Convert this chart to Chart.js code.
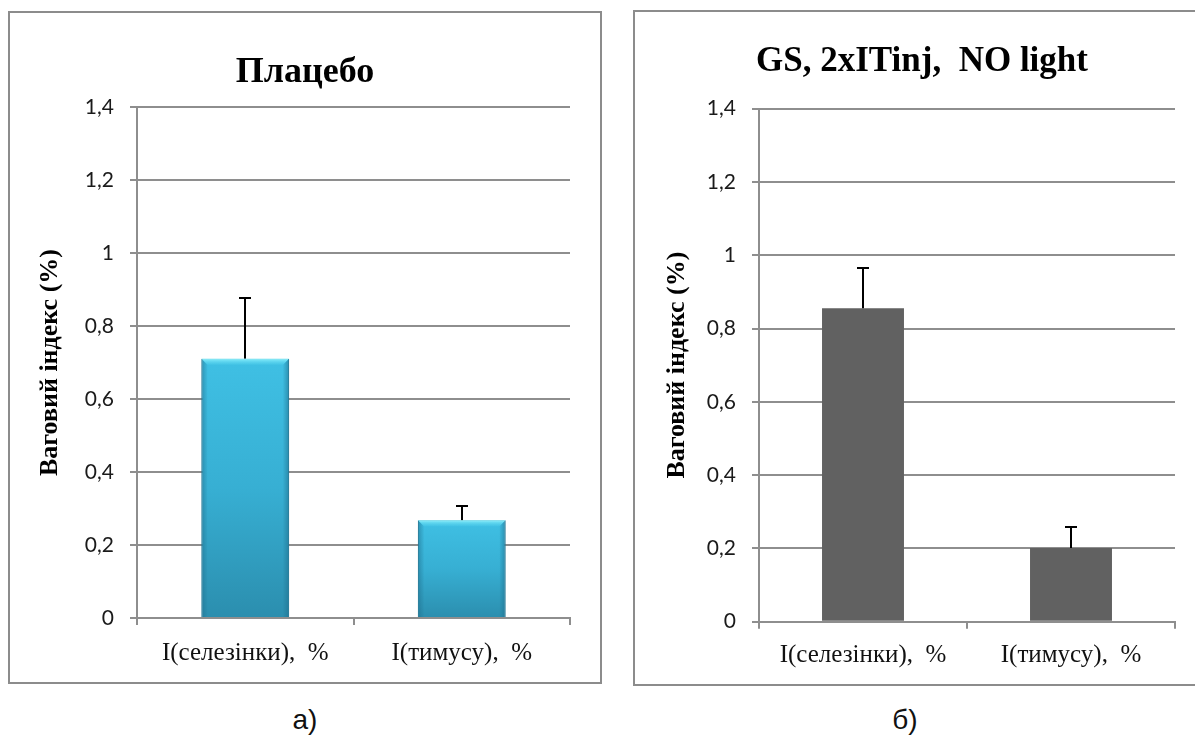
<!DOCTYPE html>
<html><head><meta charset="utf-8">
<script src="https://cdn.jsdelivr.net/npm/chart.js@4.4.1/dist/chart.umd.min.js"></script>
<style>
body{margin:0;background:#fff;width:1195px;height:749px;overflow:hidden;position:relative;}
.panel{position:absolute;border:2px solid #8c8c8c;box-sizing:border-box;background:#fff;}
canvas{position:absolute;left:0;top:0;}
.cap{position:absolute;font-family:"Liberation Sans",Arial,sans-serif;font-size:28px;color:#111;transform:translate(-50%,-50%);line-height:1;}
</style></head><body>
<div class="panel" style="left:8px;top:11px;width:594px;height:673px;"><canvas id="c1" width="590" height="669"></canvas></div>
<div class="panel" style="left:633px;top:10px;width:580px;height:676px;"><canvas id="c2" width="560" height="671"></canvas></div>
<div class="cap" style="left:305px;top:720px;">а)</div>
<div class="cap" style="left:905px;top:720px;">б)</div>
<script>
// ---- data ----
const categories = ['I(селезінки),  %', 'I(тимусу),  %'];
const placeboValues = [0.71, 0.268];
const placeboUpper = [0.877, 0.307];
const gsValues = [0.855, 0.201];
const gsUpper = [0.966, 0.259];
const tickLabels = ['0', '0,2', '0,4', '0,6', '0,8', '1', '1,2', '1,4'];
const titleLeft = 'Плацебо';
const titleRight = 'GS, 2xITinj,  NO light';
const yTitle = 'Ваговий індекс (%)';

const GRID = '#8e8e8e';
const SERIF = '"Liberation Serif", "Times New Roman", serif';

const errPlugin = {
  id: 'err',
  afterDatasetsDraw(chart, args, opts) {
    const meta = chart.getDatasetMeta(0);
    const y = chart.scales.y;
    const ctx = chart.ctx;
    ctx.save();
    ctx.strokeStyle = '#000';
    ctx.lineWidth = 2;
    meta.data.forEach((bar, i) => {
      const top = Math.round(y.getPixelForValue(opts.upper[i]));
      const x = Math.round(bar.x);
      ctx.beginPath();
      ctx.moveTo(x, bar.y);
      ctx.lineTo(x, top);
      ctx.moveTo(x - 6, top);
      ctx.lineTo(x + 6, top);
      ctx.stroke();
    });
    ctx.restore();
  }
};

const bevelPlugin = {
  id: 'bevel',
  afterDatasetsDraw(chart, args, opts) {
    if (!opts.on) return;
    const ctx = chart.ctx;
    const meta = chart.getDatasetMeta(0);
    ctx.save();
    meta.data.forEach(bar => {
      const l = bar.x - bar.width / 2, r = bar.x + bar.width / 2, t = bar.y, b = bar.base;
      const d = 6;
      let g = ctx.createLinearGradient(0, t, 0, t + d);
      g.addColorStop(0, 'rgba(140,240,252,0.95)');
      g.addColorStop(1, 'rgba(90,215,240,0.2)');
      ctx.fillStyle = g;
      ctx.beginPath();
      ctx.moveTo(l, t); ctx.lineTo(r, t); ctx.lineTo(r - d, t + d); ctx.lineTo(l + d, t + d); ctx.closePath();
      ctx.fill();
      g = ctx.createLinearGradient(l, 0, l + d, 0);
      g.addColorStop(0, 'rgba(30,110,140,0.55)');
      g.addColorStop(1, 'rgba(30,110,140,0.05)');
      ctx.fillStyle = g;
      ctx.beginPath();
      ctx.moveTo(l, t); ctx.lineTo(l + d, t + d); ctx.lineTo(l + d, b); ctx.lineTo(l, b); ctx.closePath();
      ctx.fill();
      g = ctx.createLinearGradient(r, 0, r - d, 0);
      g.addColorStop(0, 'rgba(30,110,140,0.6)');
      g.addColorStop(1, 'rgba(30,110,140,0.05)');
      ctx.fillStyle = g;
      ctx.beginPath();
      ctx.moveTo(r, t); ctx.lineTo(r - d, t + d); ctx.lineTo(r - d, b); ctx.lineTo(r, b); ctx.closePath();
      ctx.fill();
    });
    ctx.restore();
  }
};

function cyanGradient(c) {
  const chart = c.chart;
  const y = chart.scales.y;
  if (!y || c.parsed === undefined) return '#3ab6dc';
  const top = y.getPixelForValue(c.parsed.y);
  const bot = y.getPixelForValue(0);
  if (!isFinite(top) || !isFinite(bot)) return '#3ab6dc';
  const g = chart.ctx.createLinearGradient(0, top, 0, bot);
  g.addColorStop(0, '#3fc0e4');
  g.addColorStop(0.5, '#37afd3');
  g.addColorStop(1, '#2b8eae');
  return g;
}

function makeChart(id, cfg) {
  return new Chart(document.getElementById(id), {
    type: 'bar',
    data: {
      labels: categories,
      datasets: [{
        data: cfg.values,
        backgroundColor: cfg.color,
        borderColor: cfg.border,
        borderWidth: cfg.borderWidth,
        barPercentage: cfg.barPct,
        categoryPercentage: 1
      }]
    },
    plugins: [errPlugin, bevelPlugin],
    options: {
      responsive: false,
      animation: false,
      events: [],
      layout: { padding: { left: cfg.padL, right: cfg.padR, top: 0, bottom: 0 } },
      plugins: {
        legend: { display: false },
        tooltip: { enabled: false },
        title: {
          display: true,
          text: cfg.title,
          color: '#000',
          font: { family: SERIF, size: cfg.titleSize, weight: 'bold', lineHeight: 1.2 },
          padding: { top: cfg.titleTop, bottom: cfg.titleBottom }
        },
        err: { upper: cfg.upper },
        bevel: { on: cfg.bevel }
      },
      scales: {
        x: {
          grid: { display: true, drawOnChartArea: false, drawTicks: true, tickLength: 7, color: GRID, lineWidth: 2, offset: true },
          border: { display: true, color: GRID, width: 2 },
          ticks: { color: '#111', padding: cfg.xPad, font: { family: SERIF, size: 25, lineHeight: 1.2 } },
          afterFit: s => { s.height = cfg.xH; }
        },
        y: {
          min: 0, max: 1.4,
          ticks: {
            stepSize: 0.2,
            color: '#1a1a1a',
            padding: 16,
            font: { family: 'Lato, "Open Sans", sans-serif', size: 21 },
            callback: (v, i) => tickLabels[i]
          },
          grid: { color: GRID, lineWidth: 2, tickLength: 7, drawTicks: true },
          border: { display: true, color: GRID, width: 2 },
          title: {
            display: true,
            text: yTitle,
            color: '#000',
            font: { family: SERIF, size: 26, weight: 'bold', lineHeight: 1.2 },
            padding: { top: cfg.yTitlePad, bottom: 0 }
          },
          afterFit: s => { s.width = cfg.yW; }
        },
        y2: {
          position: 'right',
          display: cfg.dummyW > 0,
          grid: { display: false },
          border: { display: false },
          ticks: { display: false },
          afterFit: s => { s.width = cfg.dummyW; }
        }
      }
    }
  });
}

makeChart('c1', {
  values: placeboValues, upper: placeboUpper, title: titleLeft, titleSize: 36,
  color: cyanGradient, border: '#2a88a6', borderWidth: 1, barPct: 0.405, bevel: true,
  padL: 0, padR: 0, dummyW: 30, titleTop: 38.4, titleBottom: 12.4,
  yW: 127, yTitlePad: 24.4, xH: 64, xPad: 13
});
makeChart('c2', {
  values: gsValues, upper: gsUpper, title: titleRight, titleSize: 35,
  color: '#616161', border: '#616161', borderWidth: 0, barPct: 0.394, bevel: false,
  padL: 14, padR: 0, dummyW: 20, titleTop: 29, titleBottom: 25.6,
  yW: 110, yTitlePad: 12.4, xH: 61.3, xPad: 11.3
});
</script>
</body></html>
